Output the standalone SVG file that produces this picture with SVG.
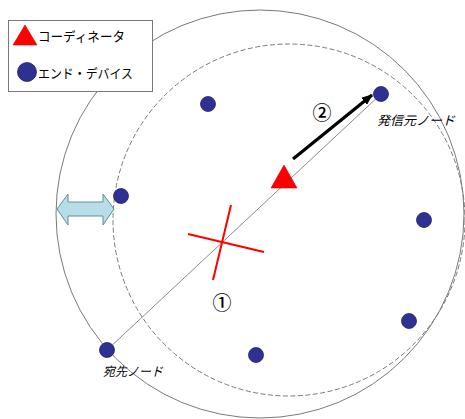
<svg xmlns="http://www.w3.org/2000/svg" width="465" height="419" viewBox="0 0 465 419">
<style>
.range{fill:none;stroke:#7a7a7a;stroke-width:1}
.dash{stroke-dasharray:5,2.5}
.dev{fill:#2e3192;stroke:#1f2270;stroke-width:0.8}
.coord{fill:#ff0000;stroke:#e00000;stroke-width:0.6}
.lbl{font-family:"Noto Sans CJK JP","Noto Sans",sans-serif;font-size:13px;fill:#000}
.it{font-style:italic;font-size:12.5px}
.num{font-family:"Noto Sans CJK JP",sans-serif;font-weight:500;font-size:19px;fill:#000;text-anchor:middle}
</style>
<defs>
<marker id="ah" markerWidth="11" markerHeight="9" refX="10" refY="4.5" orient="auto" markerUnits="userSpaceOnUse">
<path d="M0,0 L11,4.5 L0,9 Z" fill="#000"/>
</marker>
</defs>
<rect width="465" height="419" fill="#fff"/>
<g id="ranges">
<circle class="range" cx="260" cy="214" r="204"/>
<circle class="range dash" cx="289" cy="220" r="176"/>
</g>
<g id="connectors">
<line x1="107" y1="350" x2="381" y2="94" stroke="#8a8a8a" stroke-width="1"/>
<line x1="293" y1="159" x2="372" y2="95" stroke="#000" stroke-width="3.2" marker-end="url(#ah)"/>
<path d="M57,209 L68,194 L68,202 L103,202 L103,194 L114,209 L103,225 L103,216 L68,216 L68,225 Z" fill="#b7dee8" stroke="#5f8f99" stroke-width="1"/>
</g>
<g id="cross">
<line x1="231" y1="205" x2="213" y2="280" stroke="#ff0000" stroke-width="2"/>
<line x1="188" y1="234" x2="264" y2="252" stroke="#ff0000" stroke-width="2"/>
</g>
<g id="legend">
<rect x="8.5" y="20.5" width="144" height="71" fill="#fff" stroke="#7a7a7a" stroke-width="1"/>
<polygon class="coord" points="25,25 13,45 37,45"/>
<text class="lbl" x="38" y="41" textLength="87" lengthAdjust="spacingAndGlyphs">コーディネータ</text>
<circle class="dev" cx="27" cy="72" r="9.5"/>
<text class="lbl" x="38" y="78" textLength="95" lengthAdjust="spacingAndGlyphs">エンド・デバイス</text>
</g>
<g id="coordinator">
<polygon class="coord" points="284,165 271,188 297,188"/>
</g>
<g id="node1"><circle class="dev" cx="208" cy="104" r="7.5"/></g>
<g id="source"><circle class="dev" cx="381" cy="94" r="7.5"/>
<text class="lbl it" x="377" y="125" textLength="78" lengthAdjust="spacingAndGlyphs">発信元ノード</text></g>
<g id="node3"><circle class="dev" cx="121" cy="196" r="7.5"/></g>
<g id="node4"><circle class="dev" cx="424" cy="220" r="7.5"/></g>
<g id="node5"><circle class="dev" cx="409" cy="321" r="7.5"/></g>
<g id="node6"><circle class="dev" cx="256" cy="355" r="7.5"/></g>
<g id="dest"><circle class="dev" cx="107" cy="350" r="7.5"/>
<text class="lbl it" x="103" y="376" textLength="60" lengthAdjust="spacingAndGlyphs">宛先ノード</text></g>
<text class="num" x="322" y="120">②</text>
<text class="num" x="222" y="310">①</text>
</svg>
